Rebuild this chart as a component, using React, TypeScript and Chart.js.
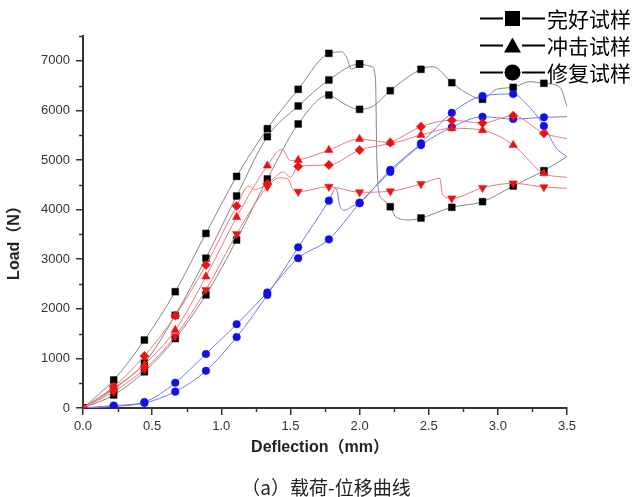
import React, { useEffect, useRef } from "react";
import { Chart, registerables } from "chart.js";

Chart.register(...registerables);

// Marker positions along deflection (mm)
const MARKER_X = [0, 0.222, 0.444, 0.667, 0.889, 1.111, 1.333, 1.556, 1.778, 2.0, 2.222, 2.444, 2.667, 2.889, 3.111, 3.333];

// 完好试样 (intact) — black squares
const bk1X = [0, 0.222, 0.444, 0.667, 0.889, 1.111, 1.333, 1.556, 1.778, 1.87, 1.91, 1.94, 2.0];
const bk1Y = [0, 565, 1370, 2345, 3520, 4670, 5632, 6425, 7150, 7180, 7050, 6830, 6935];
const bk2X = [0, 0.222, 0.444, 0.667, 0.889, 1.111, 1.333, 1.556, 1.778, 2.0, 2.09, 2.115, 2.125, 2.14, 2.17, 2.222, 2.26, 2.36, 2.444, 2.667, 2.889, 3.111, 3.333, 3.5];
const bk2Y = [0, 400, 907, 1870, 3020, 4274, 5470, 6089, 6613, 6935, 6880, 6650, 5000, 4350, 4200, 4058, 3857, 3790, 3830, 4046, 4160, 4476, 4785, 5067];
const bk3X = [0, 0.222, 0.444, 0.667, 0.889, 1.111, 1.333, 1.556, 1.778, 1.81, 1.88, 2.0, 2.1, 2.222, 2.444, 2.53, 2.667, 2.77, 2.889, 2.99, 3.111, 3.23, 3.333, 3.45, 3.5];
const bk3Y = [0, 262, 730, 1400, 2280, 3387, 4617, 5726, 6310, 6276, 6145, 6022, 6089, 6397, 6828, 6882, 6559, 6357, 6224, 6425, 6465, 6579, 6546, 6465, 6075];

// 冲击试样 (impacted) — red
const rtX = [0, 0.222, 0.444, 0.667, 0.889, 1.111, 1.333, 1.44, 1.5, 1.556, 1.778, 2.0, 2.222, 2.444, 2.667, 2.889, 3.111, 3.333, 3.5];
const rtY = [0, 380, 880, 1570, 2650, 3850, 4885, 5215, 4990, 5000, 5200, 5423, 5350, 5504, 5640, 5600, 5302, 4730, 4650];
const rdX = [0, 0.222, 0.444, 0.667, 0.889, 1.111, 1.2, 1.24, 1.333, 1.45, 1.5, 1.556, 1.778, 2.0, 2.222, 2.444, 2.667, 2.889, 3.111, 3.333, 3.5];
const rdY = [0, 430, 1048, 1860, 2883, 4073, 4480, 4400, 4520, 4760, 4650, 4870, 4900, 5200, 5350, 5672, 5800, 5746, 5893, 5538, 5430];
const rvX = [0, 0.222, 0.444, 0.667, 0.889, 1.111, 1.333, 1.42, 1.48, 1.52, 1.556, 1.778, 2.0, 2.222, 2.444, 2.58, 2.6, 2.667, 2.889, 3.111, 3.333, 3.5];
const rvY = [0, 330, 780, 1450, 2380, 3508, 4460, 4640, 4620, 4400, 4361, 4462, 4350, 4370, 4516, 4630, 4300, 4228, 4440, 4530, 4455, 4430];

// 修复试样 (repaired) — blue circles
const blAX = [0, 0.222, 0.444, 0.667, 0.889, 1.111, 1.333, 1.556, 1.778, 1.83, 1.86, 1.89, 1.95, 2.0, 2.222, 2.444, 2.667, 2.889, 3.111, 3.2, 3.333, 3.42, 3.5];
const blAY = [0, 30, 100, 330, 750, 1430, 2280, 3240, 4180, 4430, 4060, 3990, 4070, 4140, 4800, 5336, 5950, 6290, 6330, 6150, 5685, 5250, 5067];
const blBX = [0, 0.222, 0.444, 0.667, 0.889, 1.111, 1.333, 1.556, 1.778, 2.0, 2.222, 2.444, 2.667, 2.889, 3.111, 3.333, 3.5];
const blBY = [0, 50, 120, 510, 1090, 1690, 2330, 3020, 3400, 4127, 4760, 5300, 5660, 5873, 5826, 5860, 5873];

const X_TICKS = [0, 0.5, 1.0, 1.5, 2.0, 2.5, 3.0, 3.5];
const Y_TICKS = [0, 1000, 2000, 3000, 4000, 5000, 6000, 7000];
const LEGEND_LABELS = ["完好试样", "冲击试样", "修复试样"];
const X_TITLE = "Deflection（mm）";
const Y_TITLE = "Load（N）";
const CAPTION = "（a）载荷-位移曲线";

const isMarker = (x: number) => MARKER_X.some((m) => Math.abs(m - x) < 1e-6);

function makeSet(xs: number[], ys: number[], line: string, mark: string, style: any, r: number, rot = 0) {
  return {
    data: xs.map((x, i) => ({ x, y: ys[i] })),
    showLine: true,
    borderColor: line,
    borderWidth: 1,
    cubicInterpolationMode: "monotone" as const,
    pointStyle: style,
    pointRotation: rot,
    pointRadius: xs.map((x) => (isMarker(x) ? r : 0)),
    pointHoverRadius: xs.map((x) => (isMarker(x) ? r : 0)),
    pointBackgroundColor: mark,
    pointBorderColor: mark,
    pointBorderWidth: 0.5,
  };
}

const extrasPlugin = {
  id: "extras",
  afterDraw(chart: any) {
    const ctx = chart.ctx;
    const xs = chart.scales.x;
    const ys = chart.scales.y;
    const area = chart.chartArea;
    ctx.save();
    // minor ticks
    ctx.strokeStyle = "#333";
    ctx.lineWidth = 1.5;
    ctx.beginPath();
    for (let v = 500; v <= 7500; v += 1000) {
      const py = Math.round(ys.getPixelForValue(v)) + 0.5;
      ctx.moveTo(area.left - 4, py);
      ctx.lineTo(area.left, py);
    }
    for (let v = 0.25; v < 3.5; v += 0.5) {
      const px = Math.round(xs.getPixelForValue(v)) + 0.5;
      ctx.moveTo(px, area.bottom);
      ctx.lineTo(px, area.bottom + 4);
    }
    ctx.stroke();

    // axis titles
    ctx.fillStyle = "#222";
    ctx.font = "bold 16px 'Liberation Sans', Arial, 'Noto Sans CJK SC', sans-serif";
    ctx.textAlign = "center";
    ctx.textBaseline = "middle";
    ctx.fillText(X_TITLE, 320, 448);
    ctx.save();
    ctx.translate(15, 239);
    ctx.rotate(-Math.PI / 2);
    ctx.fillText(Y_TITLE, 0, 0);
    ctx.restore();

    // legend
    const rows = [18.5, 45.5, 72.5];
    ctx.strokeStyle = "#000";
    ctx.fillStyle = "#000";
    ctx.lineWidth = 2;
    rows.forEach((y, i) => {
      ctx.beginPath();
      ctx.moveTo(480, y);
      ctx.lineTo(503, y);
      ctx.moveTo(522, y);
      ctx.lineTo(545, y);
      ctx.stroke();
      ctx.beginPath();
      if (i === 0) {
        ctx.rect(505, y - 7.5, 15, 15);
      } else if (i === 1) {
        ctx.moveTo(512.5, y - 8);
        ctx.lineTo(521, y + 7);
        ctx.lineTo(504, y + 7);
        ctx.closePath();
      } else {
        ctx.arc(512.5, y, 8, 0, Math.PI * 2);
      }
      ctx.fill();
      ctx.font = "21px 'Noto Sans CJK SC', sans-serif";
      ctx.textAlign = "left";
      ctx.textBaseline = "middle";
      ctx.fillText(LEGEND_LABELS[i], 547, y + 1);
    });

    // caption
    ctx.fillStyle = "#222";
    ctx.font = "19px 'Noto Sans CJK SC', sans-serif";
    ctx.textAlign = "center";
    ctx.fillText(CAPTION, 326, 488);
    ctx.restore();
  },
};

export default function App() {
  const ref = useRef<HTMLCanvasElement | null>(null);
  useEffect(() => {
    document.body.style.margin = "0";
    const canvas = ref.current!;
    const chart = new Chart(canvas, {
      type: "scatter",
      data: {
        datasets: [
          makeSet(rtX, rtY, "#e87a7a", "#ee1111", "triangle", 4.8),
          makeSet(rdX, rdY, "#e87a7a", "#ee1111", "rectRot", 4.6),
          makeSet(rvX, rvY, "#e87a7a", "#ee1111", "triangle", 4.8, 180),
          makeSet(blAX, blAY, "#7777e8", "#1010e6", "circle", 3.8),
          makeSet(blBX, blBY, "#7777e8", "#1010e6", "circle", 3.8),
          makeSet(bk1X, bk1Y, "#858585", "#000000", "rect", 4.8),
          makeSet(bk2X, bk2Y, "#858585", "#000000", "rect", 4.8),
          makeSet(bk3X, bk3Y, "#858585", "#000000", "rect", 4.8),
        ] as any,
      },
      options: {
        responsive: false,
        animation: false,
        devicePixelRatio: 1,
        layout: { padding: { left: 0, right: 67, top: 36, bottom: 40 } },
        plugins: { legend: { display: false }, tooltip: { enabled: false } },
        scales: {
          x: {
            type: "linear",
            min: 0,
            max: 3.5,
            afterFit: (s: any) => { s.height = 49; },
            afterBuildTicks: (s: any) => { s.ticks = X_TICKS.map((v) => ({ value: v })); },
            ticks: {
              callback: (v: any) => Number(v).toFixed(1),
              color: "#333",
              padding: 4,
              font: { family: "'Liberation Sans', Arial, sans-serif", size: 13 },
              maxRotation: 0,
            },
            grid: { drawOnChartArea: false, drawTicks: true, tickLength: 7, color: "#333", lineWidth: 1.5 },
            border: { display: true, color: "#333", width: 2 },
          },
          y: {
            type: "linear",
            min: 0,
            max: 7500,
            afterFit: (s: any) => { s.width = 83; },
            afterBuildTicks: (s: any) => { s.ticks = Y_TICKS.map((v) => ({ value: v })); },
            ticks: {
              callback: (v: any) => String(v),
              color: "#333",
              padding: 6,
              font: { family: "'Liberation Sans', Arial, sans-serif", size: 13 },
            },
            grid: { drawOnChartArea: false, drawTicks: true, tickLength: 7, color: "#333", lineWidth: 1.5 },
            border: { display: true, color: "#333", width: 2 },
          },
        },
      },
      plugins: [extrasPlugin],
    });
    return () => chart.destroy();
  }, []);
  return (
    <div style={{ width: 634, height: 497, background: "#fff" }}>
      <canvas ref={ref} width={634} height={497} style={{ display: "block" }} />
    </div>
  );
}
